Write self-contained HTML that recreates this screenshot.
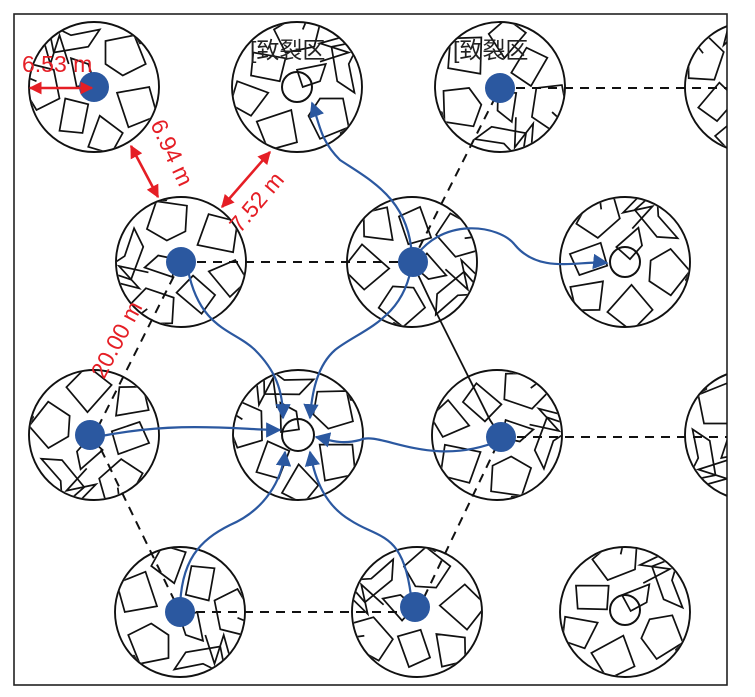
<!DOCTYPE html>
<html><head><meta charset="utf-8"><style>
html,body{margin:0;padding:0;background:#fff;}
svg{display:block;}
text{font-family:"Liberation Sans","Noto Sans CJK SC",sans-serif;}
</style></head><body>
<svg width="755" height="697" viewBox="0 0 755 697" xmlns="http://www.w3.org/2000/svg">
<defs>
<marker id="ba" viewBox="0 0 10 10" refX="9" refY="5" markerWidth="7" markerHeight="7" orient="auto"><path d="M0,0 L10,5 L0,10 z" fill="#2b58a0"/></marker>
<marker id="ra" viewBox="0 0 10 10" refX="9" refY="5" markerWidth="5" markerHeight="5" orient="auto-start-reverse"><path d="M0,0 L10,5 L0,10 z" fill="#e51e25"/></marker>
<g id="frag" fill="none" stroke="#111" stroke-width="1.5" transform="scale(1.15)">
<path d="M-40,-55 L-20,-45 L5,-50 L-5,-35 L-35,-30 z"/>
<path d="M10,-40 L35,-45 L45,-20 L25,-10 L10,-20 z"/>
<path d="M-55,-20 L-35,-15 L-30,10 L-50,20 L-62,0 z"/>
<path d="M-25,10 L-5,15 L-10,40 L-30,38 z"/>
<path d="M20,5 L48,0 L55,25 L30,35 z"/>
<path d="M-20,-25 L-5,-20 L0,-5 L-15,0 z"/>
<path d="M5,25 L25,40 L15,58 L-5,52 z"/>
<path d="M-50,30 L-35,45 L-45,55"/>
<path d="M40,40 L55,45 L45,55"/>
<path d="M-45,-45 L-38,-20 L-30,-45 L-22,-20"/>
<path d="M30,-55 L40,-38 L60,-40"/>
<path d="M-62,-10 L-50,-5"/>
</g>
<clipPath id="cc"><circle cx="0" cy="0" r="64"/></clipPath>
<g id="cell"><g clip-path="url(#cc)"><use href="#frag"/></g><circle r="65" fill="none" stroke="#111" stroke-width="1.9"/></g>
<clipPath id="frame"><rect x="14" y="14" width="713" height="671"/></clipPath>
</defs>
<rect x="14" y="14" width="713" height="671" fill="none" stroke="#222" stroke-width="1.6"/>
<g clip-path="url(#frame)">
<use href="#cell" transform="translate(94,87)"/>
<use href="#cell" transform="translate(297,87) rotate(90)"/>
<use href="#cell" transform="translate(500,87) rotate(200)"/>
<use href="#cell" transform="translate(750,87) rotate(30)"/>
<use href="#cell" transform="translate(181,262) rotate(300)"/>
<use href="#cell" transform="translate(412,262) rotate(150)"/>
<use href="#cell" transform="translate(625,262) rotate(60)"/>
<use href="#cell" transform="translate(94,435) rotate(240)"/>
<use href="#cell" transform="translate(298,435) rotate(10)"/>
<use href="#cell" transform="translate(497,435) rotate(120)"/>
<use href="#cell" transform="translate(750,435) rotate(270)"/>
<use href="#cell" transform="translate(180,612) rotate(180)"/>
<use href="#cell" transform="translate(417,612) rotate(330)"/>
<use href="#cell" transform="translate(625,612) rotate(80)"/>
<g stroke="#111" stroke-width="2" stroke-dasharray="9,7" fill="none">
<line x1="181" y1="262" x2="412" y2="262"/>
<line x1="412" y1="262" x2="500" y2="88"/>
<line x1="500" y1="88" x2="727" y2="88"/>
<line x1="181" y1="262" x2="94" y2="435"/>
<line x1="94" y1="435" x2="180" y2="612"/>
<line x1="180" y1="612" x2="417" y2="612"/>
<line x1="417" y1="612" x2="501" y2="437"/>
<line x1="501" y1="437" x2="727" y2="437"/>
</g>
<path d="M412,262 L430,300 L445,330 L460,360 L475,390 L490,420 L501,437" stroke="#111" stroke-width="1.8" fill="none"/>
<g fill="none" stroke="#111" stroke-width="2">
<circle cx="297" cy="87" r="15"/><circle cx="625" cy="262" r="15"/>
<circle cx="298" cy="435" r="16"/><circle cx="625" cy="610" r="15"/>
</g>
<g stroke="#2b58a0" stroke-width="2.2" fill="none" marker-end="url(#ba)">
<path d="M188,270 C200,330 235,330 255,350 C275,370 283,390 283,418"/>
<path d="M412,262 C405,320 360,330 335,350 C318,365 312,390 310,418"/>
<path d="M96,437 C180,420 240,430 280,430"/>
<path d="M501,440 C430,470 380,430 360,440 C340,445 330,440 316,437"/>
<path d="M180,612 C180,560 200,540 230,525 C265,510 282,480 285,452"/>
<path d="M412,605 C405,530 380,540 350,520 C325,505 315,480 310,452"/>
<path d="M412,262 C412,200 370,180 340,160 C320,140 320,125 312,103"/>
<path d="M412,262 C440,215 500,225 515,245 C540,275 580,260 607,263"/>
</g>
<g fill="#2b58a0">
<circle cx="94" cy="87" r="15"/><circle cx="500" cy="88" r="15"/>
<circle cx="181" cy="262" r="15"/><circle cx="413" cy="262" r="15"/>
<circle cx="90" cy="435" r="15"/><circle cx="501" cy="437" r="15"/>
<circle cx="180" cy="612" r="15"/><circle cx="415" cy="607" r="15"/>
</g>
</g>
<g stroke="#e51e25" stroke-width="2.6" marker-start="url(#ra)" marker-end="url(#ra)">
<line x1="30" y1="88" x2="92" y2="88"/>
<line x1="131" y1="146" x2="158" y2="197"/>
<line x1="222" y1="207" x2="270" y2="152"/>
</g>
<g fill="#e51e25" font-size="23">
<text x="22" y="72">6.53 m</text>
<text transform="translate(150,124) rotate(65)">6.94 m</text>
<text transform="translate(240,234) rotate(-50)">7.52 m</text>
<text transform="translate(104,380) rotate(-62)">20.00 m</text>
</g>
<g fill="#222" font-size="23">
<text x="250" y="58">[致裂区</text>
<text x="453" y="58">[致裂区</text>
</g>
</svg>
</body></html>
